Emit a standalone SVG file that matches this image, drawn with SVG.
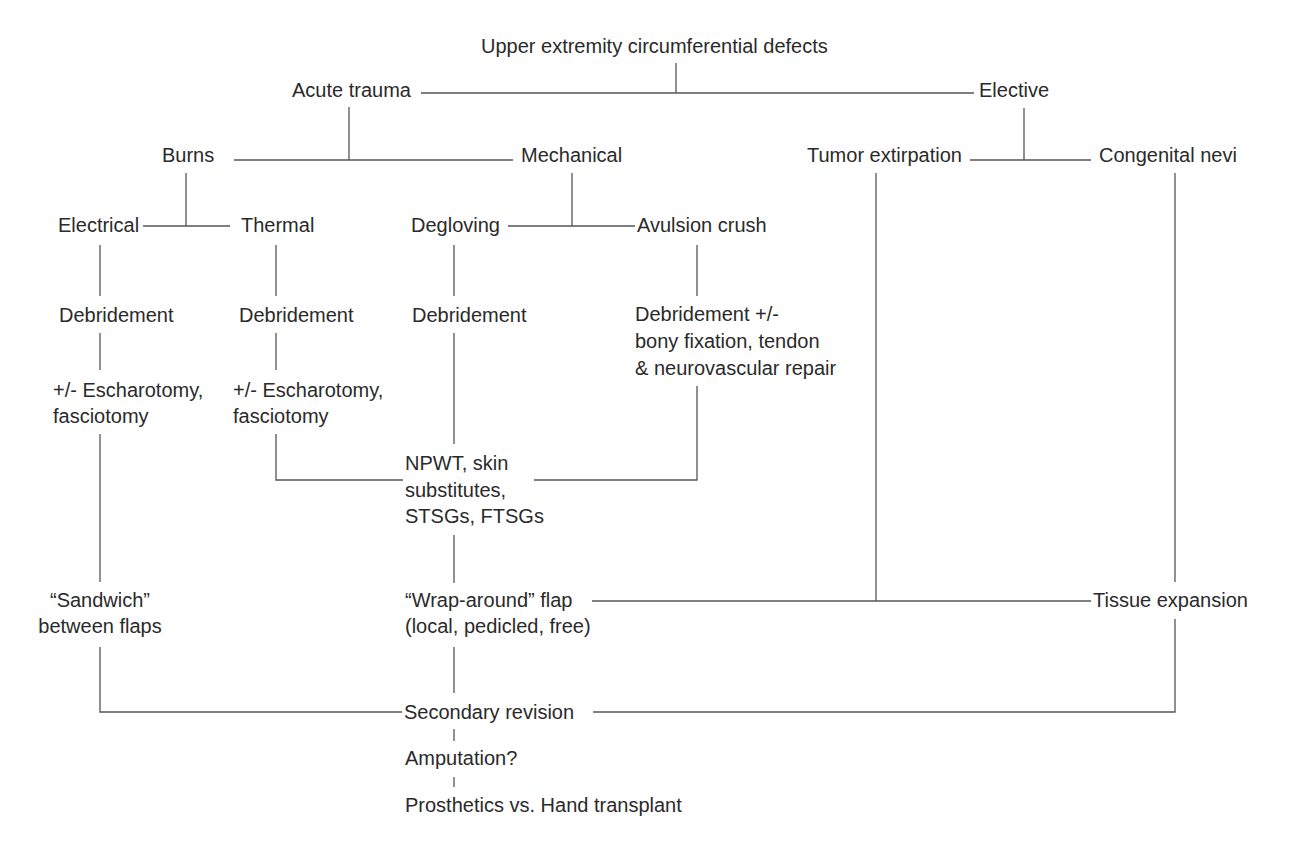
<svg xmlns="http://www.w3.org/2000/svg" width="1306" height="843" viewBox="0 0 1306 843">
<style>
text{font-family:"Liberation Sans",Arial,sans-serif;font-size:20px;fill:#2a2a2a}
.c line,.c path{stroke:#555;stroke-width:1.3;fill:none}
.m{text-anchor:middle}
</style>
<rect width="1306" height="843" fill="#fff"/>
<g class="c" id="connectors">
<line x1="676" y1="63" x2="676" y2="93"/>
<line x1="421" y1="93" x2="974" y2="93"/>
<line x1="349" y1="107" x2="349" y2="160"/>
<line x1="234" y1="160" x2="513" y2="160"/>
<line x1="1024" y1="108" x2="1024" y2="160"/>
<line x1="970" y1="160" x2="1091" y2="160"/>
<line x1="186" y1="173" x2="186" y2="226"/>
<line x1="143" y1="226" x2="230" y2="226"/>
<line x1="572" y1="173" x2="572" y2="226"/>
<line x1="508" y1="226" x2="635" y2="226"/>
<line x1="100" y1="245" x2="100" y2="296"/>
<line x1="100" y1="333" x2="100" y2="370"/>
<line x1="100" y1="434" x2="100" y2="582"/>
<path d="M100 647V712H402"/>
<line x1="276" y1="245" x2="276" y2="296"/>
<line x1="276" y1="333" x2="276" y2="370"/>
<path d="M276 434V480H403"/>
<line x1="454" y1="245" x2="454" y2="296"/>
<line x1="454" y1="333" x2="454" y2="444"/>
<line x1="454" y1="535" x2="454" y2="583"/>
<line x1="454" y1="647" x2="454" y2="693"/>
<line x1="454" y1="729" x2="454" y2="741"/>
<line x1="454" y1="777" x2="454" y2="787"/>
<line x1="697" y1="245" x2="697" y2="296"/>
<path d="M697 386V480H534"/>
<line x1="592" y1="601" x2="1091" y2="601"/>
<line x1="876" y1="173" x2="876" y2="601"/>
<line x1="1175" y1="173" x2="1175" y2="582"/>
<path d="M593 712H1175V619"/>
</g>
<g id="n-root"><text x="481" y="53">Upper extremity circumferential defects</text></g>
<g id="n-acute"><text x="292" y="97">Acute trauma</text></g>
<g id="n-elective"><text x="979" y="97">Elective</text></g>
<g id="n-burns"><text x="162" y="162">Burns</text></g>
<g id="n-mechanical"><text x="521" y="162">Mechanical</text></g>
<g id="n-tumor"><text x="807" y="162">Tumor extirpation</text></g>
<g id="n-nevi"><text x="1099" y="162">Congenital nevi</text></g>
<g id="n-electrical"><text x="58" y="232">Electrical</text></g>
<g id="n-thermal"><text x="241" y="232">Thermal</text></g>
<g id="n-degloving"><text x="411" y="232">Degloving</text></g>
<g id="n-avulsion"><text x="637" y="232">Avulsion crush</text></g>
<g id="n-deb1"><text x="59" y="322">Debridement</text></g>
<g id="n-deb2"><text x="239" y="322">Debridement</text></g>
<g id="n-deb3"><text x="412" y="322">Debridement</text></g>
<g id="n-deb4"><text x="635" y="321">Debridement +/-</text><text x="635" y="348">bony fixation, tendon</text><text x="635" y="375">&amp; neurovascular repair</text></g>
<g id="n-esch1"><text x="53" y="397">+/- Escharotomy,</text><text x="53" y="423">fasciotomy</text></g>
<g id="n-esch2"><text x="233" y="397">+/- Escharotomy,</text><text x="233" y="423">fasciotomy</text></g>
<g id="n-npwt"><text x="405" y="470">NPWT, skin</text><text x="405" y="497">substitutes,</text><text x="405" y="523">STSGs, FTSGs</text></g>
<g id="n-sandwich"><text class="m" x="100" y="607">“Sandwich”</text><text class="m" x="100" y="633">between flaps</text></g>
<g id="n-wrap"><text x="405" y="607">“Wrap-around” flap</text><text x="405" y="633">(local, pedicled, free)</text></g>
<g id="n-tissue"><text x="1093" y="607">Tissue expansion</text></g>
<g id="n-secondary"><text x="404" y="719">Secondary revision</text></g>
<g id="n-amputation"><text x="405" y="765">Amputation?</text></g>
<g id="n-prosthetics"><text x="405" y="812">Prosthetics vs. Hand transplant</text></g>
</svg>
